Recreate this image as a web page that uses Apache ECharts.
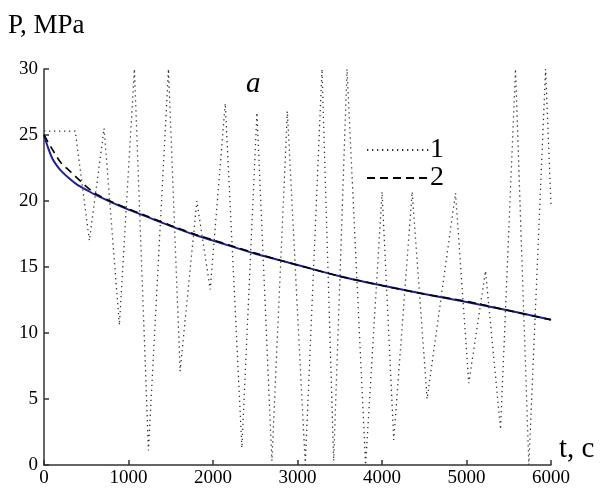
<!DOCTYPE html>
<html>
<head>
<meta charset="utf-8">
<script src="https://cdn.jsdelivr.net/npm/echarts@6/dist/echarts.min.js"></script>
<style>
  html, body { margin: 0; padding: 0; background: #fff; }
  #chart { width: 601px; height: 491px; }
</style>
</head>
<body>
<div id="chart"></div>
<script>
// curve 1: dotted oscillating pressure (t, P)
var tDotted = [0, 370, 537, 711, 892, 1070, 1236, 1473, 1611, 1809, 1967, 2145, 2342, 2520, 2697, 2880,
  3092, 3290, 3428, 3586, 3806, 4001, 4139, 4357, 4534, 4870, 5027, 5225, 5403, 5580, 5738, 5936, 6000];
var pDotted = [25.3, 25.3, 17.0, 25.5, 10.6, 30, 1.1, 30, 7.1, 20.0, 13.3, 27.4, 1.3, 26.7, 0.3, 26.8,
  0, 30, 0.3, 30, 0, 20.7, 1.9, 20.7, 5.0, 20.6, 6.2, 14.7, 2.7, 30, 0, 30, 19.7];

// curve 2: dashed black
var tDashed = [0, 100, 200, 300, 400, 500, 600, 800, 1000, 1200, 1500, 1800, 2000, 2200, 2500, 2800,
  3000, 3500, 4000, 4500, 5000, 5500, 6000];
var pDashed = [25, 23.9, 22.9, 22.3, 21.7, 21.1, 20.6, 19.95, 19.4, 18.9, 18.15, 17.45, 17.05, 16.65, 16.05, 15.5,
  15.15, 14.3, 13.6, 12.95, 12.4, 11.7, 11.0];

// blue solid curve
var tBlue = [0, 50, 100, 150, 200, 300, 400, 500, 600, 800, 1000, 1200, 1500, 1800, 2000, 2200, 2500, 2800,
  3000, 3500, 4000, 4500, 5000, 5500, 6000];
var pBlue = [25, 24.0, 23.2, 22.7, 22.3, 21.7, 21.2, 20.85, 20.5, 19.9, 19.35, 18.85, 18.1, 17.4, 17.0, 16.6, 16.0, 15.5,
  15.15, 14.3, 13.6, 12.95, 12.35, 11.7, 11.0];

var xTicks = [0, 1000, 2000, 3000, 4000, 5000, 6000];
var yTicks = [0, 5, 10, 15, 20, 25, 30];

function pairs(xs, ys) {
  return xs.map(function (x, i) { return [x, ys[i]]; });
}

var serif = 'Liberation Serif';
var chart = echarts.init(document.getElementById('chart'), null, { renderer: 'canvas' });

var option = {
  backgroundColor: '#fff',
  animation: false,
  grid: { left: 44, right: 50, top: 69, bottom: 26, containLabel: false },
  xAxis: {
    type: 'value',
    min: xTicks[0],
    max: xTicks[xTicks.length - 1],
    interval: 1000,
    splitLine: { show: false },
    axisLine: { lineStyle: { color: '#333', width: 1.5 } },
    axisTick: { inside: true, length: 5, lineStyle: { color: '#333', width: 1.5 } },
    axisLabel: { color: '#000', fontFamily: serif, fontSize: 19, margin: 4, formatter: function (v) { return String(v); } }
  },
  yAxis: {
    type: 'value',
    min: yTicks[0],
    max: yTicks[yTicks.length - 1],
    interval: 5,
    splitLine: { show: false },
    axisLine: { show: true, lineStyle: { color: '#333', width: 1.5 } },
    axisTick: { show: true, inside: true, length: 5, lineStyle: { color: '#333', width: 1.5 } },
    axisLabel: { color: '#000', fontFamily: serif, fontSize: 19, margin: 6 }
  },
  legend: {
    data: ['1', '2'],
    orient: 'vertical',
    left: 366,
    top: 136,
    itemWidth: 62,
    itemHeight: 14,
    itemGap: 0,
    padding: [0, 6, 0, 0],
    backgroundColor: '#fff',
    itemStyle: { opacity: 0 },
    textStyle: { color: '#000', fontFamily: serif, fontSize: 28, lineHeight: 28, padding: [0, 0, 0, -4] }
  },
  graphic: [
    { type: 'text', left: 8, top: 12, style: { text: 'P, MPa', font: '27px "Liberation Serif"', fill: '#000' } },
    { type: 'text', left: 246, top: 70, style: { text: 'a', font: 'italic 29px "Liberation Serif"', fill: '#000' } },
    { type: 'text', left: 559, top: 435, style: { text: 't, c', font: '29px "Liberation Serif"', fill: '#000' } }
  ],
  series: [
    {
      name: '1',
      type: 'line',
      data: pairs(tDotted, pDotted),
      symbol: 'none',
      z: 1,
      lineStyle: { color: '#333', width: 1.3, type: [1.3, 3.7] }
    },
    {
      name: 'blue',
      type: 'line',
      data: pairs(tBlue, pBlue),
      symbol: 'none',
      smooth: 0.3,
      z: 2,
      lineStyle: { color: '#1f1f96', width: 2 }
    },
    {
      name: '2',
      type: 'line',
      data: pairs(tDashed, pDashed),
      symbol: 'none',
      smooth: 0.3,
      z: 3,
      lineStyle: { color: '#000', width: 1.6, type: [8, 5] }
    }
  ]
};
chart.setOption(option);
</script>
</body>
</html>
